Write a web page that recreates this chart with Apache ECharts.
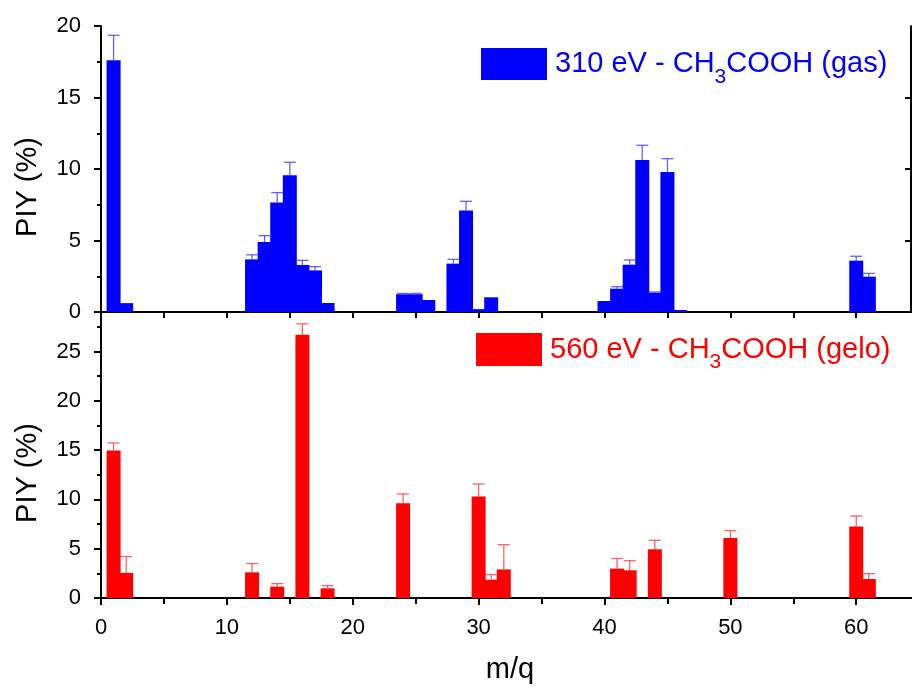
<!DOCTYPE html>
<html><head><meta charset="utf-8">
<script src="https://cdn.jsdelivr.net/npm/echarts@6/dist/echarts.min.js"></script>
<style>html,body{margin:0;padding:0;background:#fff}#c{width:912px;height:688px}</style>
</head><body><div id="c"></div>
<script>
// ---- data ----
const gasMass = [1, 2, 12, 13, 14, 15, 16, 17, 18, 24, 25, 26, 28, 29, 30, 31, 40, 41, 42, 43, 44, 45, 46, 60, 61];
const gasPIY  = [17.6, 0.62, 3.68, 4.9, 7.65, 9.56, 3.29, 2.91, 0.63, 1.24, 1.24, 0.84, 3.38, 7.09, 0.2, 1.03, 0.77, 1.63, 3.31, 10.63, 1.35, 9.79, 0.14, 3.59, 2.47];
const gasErr  = [1.75, 0, 0.32, 0.44, 0.7, 0.91, 0.32, 0.26, 0, 0.06, 0.06, 0, 0.3, 0.65, 0, 0, 0, 0.14, 0.33, 1.03, 0.05, 0.93, 0, 0.31, 0.23];
const geloMass = [1, 2, 12, 14, 16, 18, 24, 30, 31, 32, 41, 42, 44, 50, 60, 61];
const geloPIY  = [14.95, 2.54, 2.6, 1.15, 26.7, 0.98, 9.6, 10.28, 1.86, 2.9, 2.98, 2.81, 4.94, 6.09, 7.24, 1.93];
const geloErr  = [0.77, 1.66, 0.89, 0.31, 1.1, 0.28, 0.95, 1.28, 0.51, 2.51, 1.02, 0.98, 0.91, 0.74, 1.08, 0.54];
const xTickLabels = [0, 10, 20, 30, 40, 50, 60];
const xMinorTicks = [5, 15, 25, 35, 45, 55];
const xTopTicks = [5, 10, 15, 20, 25, 30, 35, 40, 45, 50, 55, 60];
const yTopTickLabels = [0, 5, 10, 15, 20];
const yTopMinor = [2.5, 7.5, 12.5, 17.5];
const yTopRight = [5, 10, 15];
const yBotTickLabels = [0, 5, 10, 15, 20, 25];
const yBotMinor = [2.5, 7.5, 12.5, 17.5, 22.5, 27.5];
const yBotRight = [5, 10, 15, 20, 25];
const gasName = '310 eV - CH3COOH (gas)';
const geloName = '560 eV - CH3COOH (gelo)';
const X_MAX = 64.35, YTOP_MAX = 20, YBOT_MAX = 29;

const FONT = '"Liberation Sans", Arial, sans-serif';
const BLUE = '#0000ff', RED = '#ff0000';
const line = {show: true, lineStyle: {color: '#000', width: 2}};
const noLine = {show: false};

function ax(o) {
  return Object.assign({
    type: 'value', splitLine: {show: false}, axisLabel: {show: false},
    axisLine: line
  }, o);
}
function ticks(vals, len, inside) {
  return {show: true, customValues: vals, length: len, inside: !!inside, lineStyle: {color: '#000', width: 2}};
}
const labelStyle = (vals) => ({show: true, customValues: vals, fontSize: 22, color: '#000', fontFamily: FONT, margin: 19});

const chart = echarts.init(document.getElementById('c'), null, {renderer: 'canvas'});

function errRender(color) {
  return function (params, api) {
    const x = api.value(0), y0 = api.value(1), y1 = api.value(2);
    const p0 = api.coord([x, y0]), p1 = api.coord([x, y1]);
    const hw = 6;
    return {type: 'group', children: [
      {type: 'line', shape: {x1: p0[0], y1: p0[1], x2: p1[0], y2: p1[1]}, style: {stroke: color, lineWidth: 1.3}},
      {type: 'line', shape: {x1: p1[0] - hw, y1: p1[1], x2: p1[0] + hw, y2: p1[1]}, style: {stroke: color, lineWidth: 1.3}}
    ]};
  };
}

const legendRich = (color) => ({
  b: {fontSize: 29, color: color, fontFamily: FONT, padding: [0, 0, 0, 3]},
  a: {fontSize: 29, color: color, fontFamily: FONT},
  s: {fontSize: 21, color: color, fontFamily: FONT, padding: [26, 0, 0, 0]}
});

chart.setOption({
  animation: false,
  backgroundColor: '#fff',
  grid: [
    {left: 101, width: 810, top: 26, height: 286},
    {left: 101, width: 810, top: 312, height: 286}
  ],
  legend: [
    {data: [gasName], left: 481, top: 48, padding: 0, itemWidth: 66, itemHeight: 32, icon: 'rect', selectedMode: false,
     formatter: () => '{b|310 eV - CH}{s|3}{a|COOH (gas)}', textStyle: {color: BLUE, rich: legendRich(BLUE)}},
    {data: [geloName], left: 476, top: 333, padding: 0, itemWidth: 66, itemHeight: 33, icon: 'rect', selectedMode: false,
     formatter: () => '{b|560 eV - CH}{s|3}{a|COOH (gelo)}', textStyle: {color: RED, rich: legendRich(RED)}}
  ],
  xAxis: [
    ax({gridIndex: 0, min: 0, max: X_MAX, position: 'bottom', axisTick: {show: false}}),
    ax({gridIndex: 0, min: 0, max: X_MAX, position: 'top', axisTick: ticks(xTopTicks, 6, true)}),
    ax({gridIndex: 1, min: 0, max: X_MAX, position: 'bottom', axisTick: ticks(xTickLabels, 7, false),
        axisLabel: labelStyle(xTickLabels), name: 'm/q', nameLocation: 'middle', nameGap: 57,
        nameTextStyle: {fontSize: 29, color: '#000', fontFamily: FONT, padding: [0, 0, 0, 8]}}),
    ax({gridIndex: 1, min: 0, max: X_MAX, position: 'bottom', axisLine: noLine, axisTick: ticks(xMinorTicks, 4, false)}),
    ax({gridIndex: 1, min: 0, max: X_MAX, position: 'top', axisTick: ticks(xTopTicks, 6, true)})
  ],
  yAxis: [
    ax({gridIndex: 0, min: 0, max: YTOP_MAX, position: 'left', axisTick: ticks(yTopTickLabels, 7, false),
        axisLabel: Object.assign(labelStyle(yTopTickLabels), {margin: 20}), name: 'PIY (%)', nameLocation: 'middle', nameGap: 59,
        nameTextStyle: {fontSize: 29, color: '#000', fontFamily: FONT, padding: [0, 36, 0, 0]}}),
    ax({gridIndex: 0, min: 0, max: YTOP_MAX, position: 'left', axisLine: noLine, axisTick: ticks(yTopMinor, 4, false)}),
    ax({gridIndex: 0, min: 0, max: YTOP_MAX, position: 'right', axisTick: ticks(yTopRight, 6, true)}),
    ax({gridIndex: 1, min: 0, max: YBOT_MAX, position: 'left', axisTick: ticks(yBotTickLabels, 7, false),
        axisLabel: Object.assign(labelStyle(yBotTickLabels), {margin: 20}), name: 'PIY (%)', nameLocation: 'middle', nameGap: 59,
        nameTextStyle: {fontSize: 29, color: '#000', fontFamily: FONT, padding: [0, 36, 0, 0]}}),
    ax({gridIndex: 1, min: 0, max: YBOT_MAX, position: 'left', axisLine: noLine, axisTick: ticks(yBotMinor, 4, false)}),
    ax({gridIndex: 1, min: 0, max: YBOT_MAX, position: 'right', axisTick: ticks(yBotRight, 6, true)})
  ],
  series: [
    {type: 'bar', name: gasName, xAxisIndex: 0, yAxisIndex: 0, barWidth: 14, itemStyle: {color: BLUE},
     data: gasMass.map((m, i) => [m, gasPIY[i]])},
    {type: 'custom', xAxisIndex: 0, yAxisIndex: 0, z: 3, renderItem: errRender('rgba(60,60,255,0.8)'),
     encode: {x: 0, y: [1, 2]},
     data: gasMass.map((m, i) => [m, gasPIY[i], gasPIY[i] + gasErr[i]]).filter((d, i) => gasErr[i] > 0)},
    {type: 'bar', name: geloName, xAxisIndex: 2, yAxisIndex: 3, barWidth: 14, itemStyle: {color: RED},
     data: geloMass.map((m, i) => [m, geloPIY[i]])},
    {type: 'custom', xAxisIndex: 2, yAxisIndex: 3, z: 3, renderItem: errRender('rgba(255,60,60,0.8)'),
     encode: {x: 0, y: [1, 2]},
     data: geloMass.map((m, i) => [m, geloPIY[i], geloPIY[i] + geloErr[i]]).filter((d, i) => geloErr[i] > 0)}
  ]
});
</script>
</body></html>
